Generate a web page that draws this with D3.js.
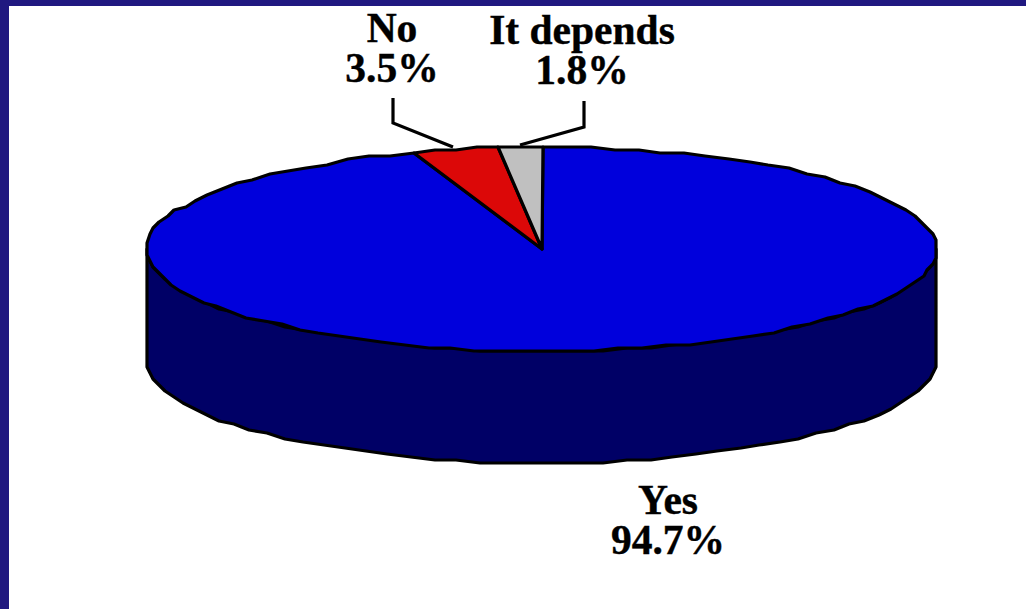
<!DOCTYPE html>
<meta charset="utf-8">
<style>
  html, body { margin: 0; padding: 0; background: #fff; }
  svg { display: block; }
  text { font-family: "Liberation Serif", serif; font-weight: bold; font-size: 41.5px; fill: #000; stroke: #000; stroke-width: 0.4px; text-anchor: middle; }
</style>

<!-- Load d3.js -->
<script src="https://d3js.org/d3.v7.min.js"></script>

<div id="my_dataviz"></div>

<script>

// chart data
var categories = ["Yes", "No", "It depends"];
var values = [94.7, 3.5, 1.8];
var valueLabels = ["94.7%", "3.5%", "1.8%"];

var colors = ["#0000dc", "#dc0808", "#c0c0c0"];
var sideColor = "#000066";
var frameColor = "#201880";

var width = 1026, height = 609;

var svg = d3.select("#my_dataviz")
  .append("svg")
    .attr("width", width)
    .attr("height", height);

// the blue frame, only on the left and top
svg.append("rect").attr("width", 9).attr("height", height).attr("fill", frameColor);
svg.append("rect").attr("width", width).attr("height", 6).attr("fill", frameColor);

// the pie is a flattened circle: unit circle to pixels
var x = d3.scaleLinear().domain([-1, 1]).range([147, 937]);
var y = d3.scaleLinear().domain([-1, 1]).range([147, 351]);
var depth = 112;

// the original outline is a rough polygon, so snap the points to a coarse grid
function snap(v, g) { return Math.round(v / g) * g; }
function rim(a, dy) {
  return [snap(x(Math.sin(a)), 3), snap(y(-Math.cos(a)), 3) + (dy || 0)];
}
function arcPoints(a0, a1, dy) {
  var n = Math.max(1, Math.round(Math.abs(a1 - a0) / (3.5 * Math.PI / 180)));
  return d3.range(n + 1).map(function(i) { return rim(a0 + (a1 - a0) * i / n, dy); });
}

var line = d3.line();

var pie = d3.pie().sort(null);
var slices = pie(values);

var stroke = 3.2;

// side wall, the lower half of the rim pushed down
var lower = arcPoints(Math.PI / 2, 3 * Math.PI / 2, 0);
var wall = lower.concat(lower.slice().reverse().map(function(p) { return [p[0], p[1] + depth]; }));
svg.append("path")
  .attr("d", line(wall) + "Z")
  .attr("fill", sideColor)
  .attr("stroke", "#000")
  .attr("stroke-width", stroke)
  .attr("stroke-linejoin", "round");

// top face
svg.selectAll("path.slice")
  .data(slices)
  .enter()
  .append("path")
    .attr("class", "slice")
    .attr("d", function(d) {
      return line([[x(0), y(0)]].concat(arcPoints(d.startAngle, d.endAngle))) + "Z";
    })
    .attr("fill", function(d, i) { return colors[i]; })
    .attr("stroke", "#000")
    .attr("stroke-width", stroke)
    .attr("stroke-linejoin", "round");

// labels and their leader lines
var labelX = [668, 392, 582];
var labelY = [514, 42, 44];
var leaders = [
  null,
  [[393, 98], [393, 123], [453, 147]],
  [[584, 101], [584, 127], [520, 145]]
];

categories.forEach(function(c, i) {
  var label = svg.append("text").attr("x", labelX[i]).attr("y", labelY[i]);
  label.append("tspan").text(c);
  label.append("tspan").attr("x", labelX[i]).attr("dy", 40).text(valueLabels[i]);
  if (leaders[i]) {
    svg.append("path")
      .attr("d", line(leaders[i]))
      .attr("fill", "none")
      .attr("stroke", "#000")
      .attr("stroke-width", stroke);
  }
});

</script>
